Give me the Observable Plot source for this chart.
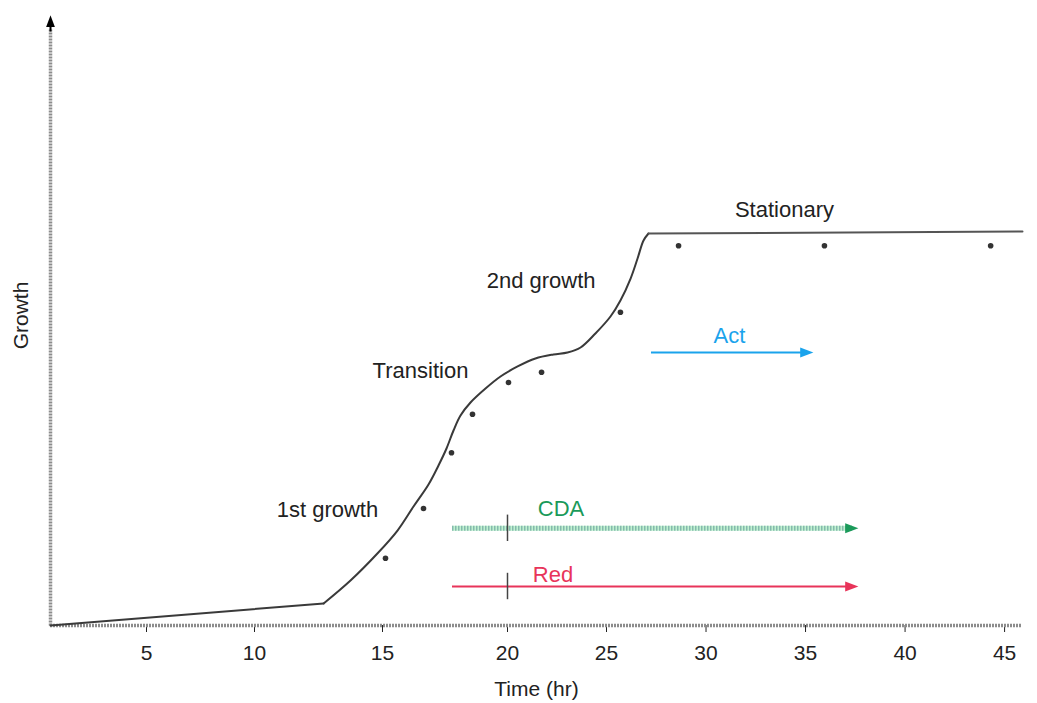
<!DOCTYPE html>
<html><head><meta charset="utf-8">
<script src="https://cdn.jsdelivr.net/npm/d3@7"></script>
<script src="https://cdn.jsdelivr.net/npm/@observablehq/plot@0.6"></script>
<style>body{margin:0;background:#fff} svg{display:block}</style>
</head><body><div id="chart"></div>
<script>
// Growth curve (schematic model): straight lag phase, smooth rise, flat stationary phase
const lagTime   = [0.5, 12.7];
const lagGrowth = [0, 3.67];
const riseTime   = [12.7, 13.75, 14.8, 15.6, 16.24, 16.84, 17.24, 17.56, 17.84, 18.12, 18.52, 19.12, 19.72, 20.51, 21.41, 22.32, 23.03, 23.69, 24.44, 25.2, 25.7, 26.21, 26.56, 26.86, 27.11];
const riseGrowth = [3.67, 7.5, 12, 15.83, 19.83, 23.5, 26.67, 29.5, 32.5, 35, 37.17, 39.5, 41.5, 43.17, 44.5, 45.17, 45.5, 46.33, 48.67, 51.5, 54.17, 57.83, 61.17, 64.17, 65.33];
const statTime   = [27.11, 45.9];
const statGrowth = [65.33, 65.67];
// Measured samples
const sampleTime   = [15.12, 16.64, 17.76, 18.6, 20.05, 21.72, 25.7, 28.62, 35.95, 44.3];
const sampleGrowth = [11.2, 19.5, 28.8, 35.2, 40.5, 42.2, 52.2, 63.3, 63.3, 63.3];
// Axis ticks
const xTicks = [5, 10, 15, 20, 25, 30, 35, 40, 45];
// Phase labels
const phaseNames  = ["1st growth", "Transition", "2nd growth", "Stationary"];
const phaseTime   = [12.85, 16.52, 21.7, 33.94];
const phaseGrowth = [19.2, 42.5, 57.5, 69.2];
// Activity periods
const actNames   = ["Act", "CDA", "Red"];
const actStart   = [27.26, 17.8, 17.8];
const actEnd     = [35.1, 37.36, 37.36];
const actLevel   = [45.5, 16.2, 6.5];
const actLabelT  = [31.18, 22.7, 22.3];
const actLabelG  = [48.3, 19.5, 8.5];
const actOnset   = [null, 20, 20];

// The original time axis is drawn unevenly (schematic); reproduce it with a piecewise scale transform.
const axisBreaks = [0.5, 5, 10, 15, 20, 25, 45.9];
const axisSpan   = [0, 96, 204, 332, 457, 556, 972];
const warp = d3.scaleLinear().domain(axisBreaks).range(axisSpan);

const toRows = (ts, gs) => ts.map((t, i) => ({t, g: gs[i]}));
const lag = toRows(lagTime, lagGrowth);
const rise = toRows(riseTime, riseGrowth);
const stat = toRows(statTime, statGrowth);
const samples = toRows(sampleTime, sampleGrowth);
const phases = phaseNames.map((name, i) => ({name, t: phaseTime[i], g: phaseGrowth[i]}));
const acts = actNames.map((name, i) => ({name, start: actStart[i], end: actEnd[i], level: actLevel[i], lt: actLabelT[i], lg: actLabelG[i], onset: actOnset[i]}));
const solidActs = acts.filter(d => d.name !== "CDA");
const dashActs = acts.filter(d => d.name === "CDA");
const onsetActs = acts.filter(d => d.onset != null);

const chart = Plot.plot({
  width: 1037,
  height: 703,
  marginLeft: 50,
  marginRight: 15,
  marginTop: 25,
  marginBottom: 78,
  style: {fontFamily: "'Liberation Sans', Arial, sans-serif", fontSize: "21px", color: "#222", background: "#fff"},
  x: {
    transform: warp,
    domain: [warp(axisBreaks[0]), warp(axisBreaks[axisBreaks.length - 1])],
    ticks: xTicks.map(warp),
    tickFormat: u => String(Math.round(warp.invert(u))),
    tickSize: 7,
    tickPadding: 13,
    label: null,
    line: false
  },
  y: {domain: [0, 100], axis: null},
  color: {domain: actNames, range: ["#1aa3ec", "#1a9a5a", "#e8345a"]},
  marks: [
    // axes lines
    Plot.ruleY([0], {x1: 0.5, x2: 45.9, stroke: "#8c8c8c", strokeWidth: 3.5, strokeDasharray: "2,1"}),
    Plot.link([0], {x1: 0.5, x2: 0.5, y1: 0, y2: 99.5, stroke: "#8c8c8c", strokeWidth: 3.5, strokeDasharray: "2,1"}),
    Plot.link([0], {x1: 0.5, x2: 0.5, y1: 99, y2: 100.8, stroke: "#000", strokeWidth: 2, markerEnd: "arrow"}),
    // activity bars
    Plot.ruleY(dashActs, {x1: "start", x2: "end", y: "level", stroke: "#bff2d0", strokeWidth: 5}),
    Plot.ruleY(dashActs, {x1: "start", x2: "end", y: "level", stroke: "#86b9ad", strokeWidth: 5, strokeDasharray: "1.5,1.5"}),
    Plot.ruleY(solidActs, {x1: "start", x2: "end", y: "level", stroke: "name", strokeWidth: 2}),
    Plot.link(acts, {x1: d => d.end - 0.2, x2: "end", y1: "level", y2: "level", stroke: "name", strokeWidth: 2.2, markerEnd: "arrow"}),
    Plot.ruleX(onsetActs, {x: "onset", y1: d => d.level - 2.2, y2: d => d.level + 2.2, stroke: "#444", strokeWidth: 1.5}),
    Plot.text(acts, {x: "lt", y: "lg", text: "name", fill: "name", fontSize: 22}),
    // growth curve
    Plot.line(lag, {x: "t", y: "g", stroke: "#3a3a3a", strokeWidth: 2}),
    Plot.line(rise, {x: "t", y: "g", stroke: "#3a3a3a", strokeWidth: 2, curve: "catmull-rom"}),
    Plot.line(stat, {x: "t", y: "g", stroke: "#555", strokeWidth: 2}),
    Plot.dot(samples, {x: "t", y: "g", r: 2.8, fill: "#333", stroke: "none"}),
    // phase labels
    Plot.text(phases, {x: "t", y: "g", text: "name", fill: "#222", fontSize: 22}),
    // axis titles
    Plot.text(["Time (hr)"], {frameAnchor: "bottom", lineAnchor: "middle", textAnchor: "middle", dy: 64, text: d => d, fill: "#222", fontSize: 21}),
    Plot.text(["Growth"], {frameAnchor: "left", lineAnchor: "middle", textAnchor: "middle", rotate: -90, dx: -29, dy: -10, text: d => d, fill: "#222", fontSize: 21})
  ]
});

// filled arrowheads
chart.querySelectorAll("marker").forEach(m => {
  const p0 = m.querySelector("path");
  const c = m.getAttribute("stroke") || (p0 && p0.getAttribute("stroke")) || "#000";
  m.setAttribute("fill", c);
  m.setAttribute("stroke", "none");
  m.querySelectorAll("path").forEach(p => {
    p.setAttribute("d", "M-5,-3.4L4,0L-5,3.4Z");
    p.setAttribute("fill", c);
    p.setAttribute("stroke", "none");
    p.setAttribute("stroke-dasharray", "none");
  });
});

document.getElementById("chart").appendChild(chart);
</script>
</body></html>
